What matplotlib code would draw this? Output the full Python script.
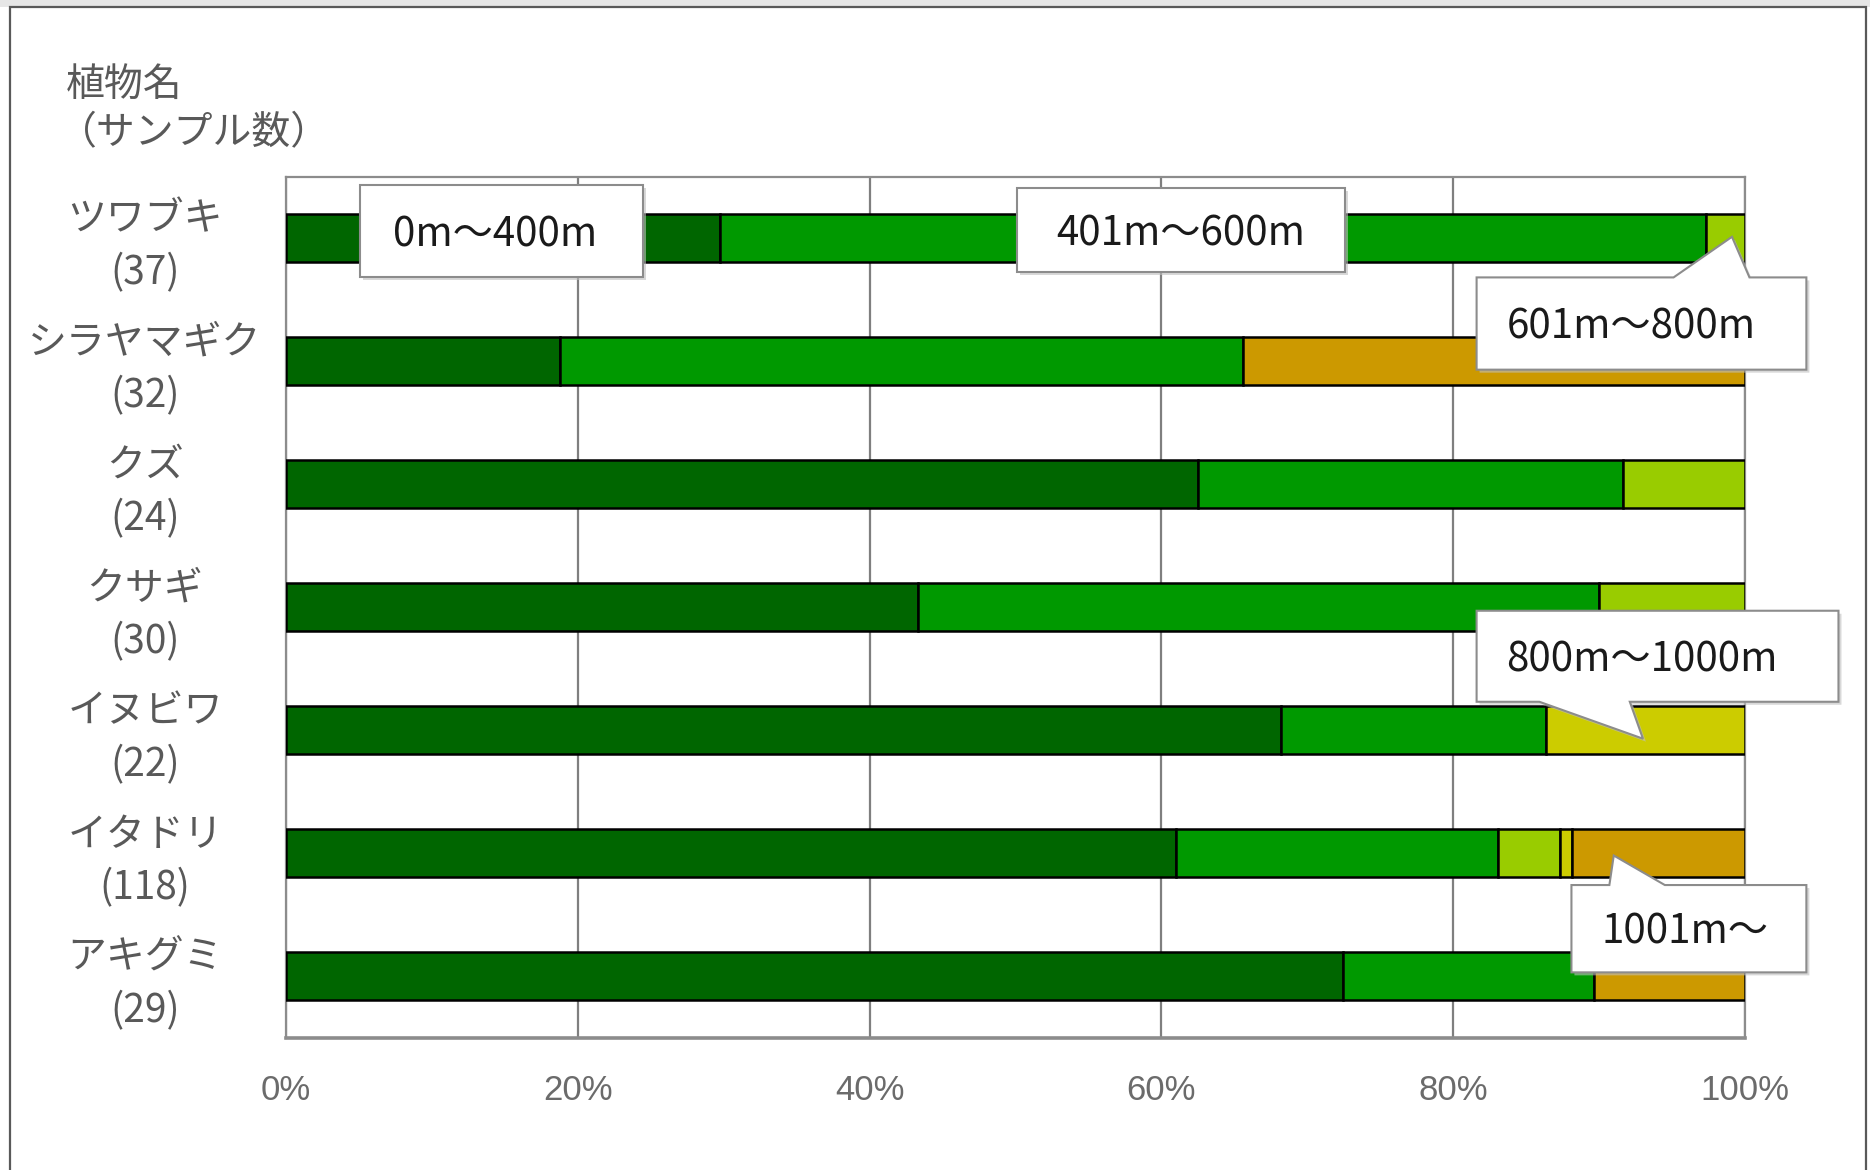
import matplotlib.pyplot as plt
from matplotlib.patches import Polygon, Rectangle
from matplotlib import transforms

plt.rcParams['font.family'] = ['Noto Sans CJK JP', 'DejaVu Sans']

# sample counts per altitude band for each plant
plants = ['ツワブキ', 'シラヤマギク', 'クズ', 'クサギ', 'イヌビワ', 'イタドリ', 'アキグミ']
samples = [37, 32, 24, 30, 22, 118, 29]
bands = ['0m～400m', '401m～600m', '601m～800m', '800m～1000m', '1001m～']
c_0_400 = [11, 6, 15, 13, 15, 72, 21]
c_401_600 = [25, 15, 7, 14, 4, 26, 5]
c_601_800 = [1, 0, 2, 3, 0, 5, 0]
c_800_1000 = [0, 0, 0, 0, 3, 1, 0]
c_1001_up = [0, 11, 0, 0, 0, 14, 3]
colors = ['#006600', '#009900', '#99cc00', '#cccc00', '#cc9900']
xticks = [0, 20, 40, 60, 80, 100]

band_counts = [c_0_400, c_401_600, c_601_800, c_800_1000, c_1001_up]

fig = plt.figure(figsize=(18.7, 11.7), dpi=100)
ax = fig.add_axes([0.1529, 0.1132, 0.7803, 0.7359])

# stacked 100% bars
lefts = [0.0] * len(plants)
for counts, col in zip(band_counts, colors):
    for i, (c, n) in enumerate(zip(counts, samples)):
        if c == 0:
            continue
        w = c / n * 100
        ax.barh(i, w, left=lefts[i], height=0.39, color=col,
                edgecolor='black', linewidth=1.8, zorder=3)
        lefts[i] += w

ax.set_xlim(0, 100)
ax.set_ylim(len(plants) - 0.5, -0.5)
ax.set_xticks(xticks)
ax.set_xticklabels([f'{t}%' for t in xticks], color='#6b6b6b', fontsize=25,
                   family=['Liberation Sans', 'DejaVu Sans'])
ax.tick_params(axis='x', length=0, pad=26)
ax.set_yticks([])
ax.grid(axis='x', color='#7f7f7f', linewidth=1.6, zorder=0)
for side in ['left', 'top', 'bottom', 'right']:
    ax.spines[side].set_color('#8c8c8c')
    ax.spines[side].set_linewidth(1.6)
ax.spines['bottom'].set_linewidth(2.6)

# two-line category labels
lab_tr = transforms.blended_transform_factory(ax.transAxes, ax.transData)
for i, (p, n) in enumerate(zip(plants, samples)):
    ax.text(-0.0966, i + 0.07, f'{p}\n({n})', transform=lab_tr, ha='center',
            va='center', fontsize=28, color='#595959', linespacing=1.45)

fig.text(66 / 1870, 1 - 85 / 1170, '植物名', fontsize=28, color='#595959',
         ha='left', va='center')
fig.text(58 / 1870, 1 - 133 / 1170, '（サンプル数）', fontsize=28, color='#595959',
         ha='left', va='center')


def callout(text, x0, x1, y0, y1, ptr=None, dx=0.0):
    # y0 is the upper edge of the box (axis is inverted)
    pts = [(x0, y0)]
    if ptr and ptr[0] == 'top':
        _, b0, b1, tx, ty = ptr
        pts += [(b0, y0), (tx, ty), (b1, y0)]
    pts += [(x1, y0), (x1, y1)]
    if ptr and ptr[0] == 'bottom':
        _, b0, b1, tx, ty = ptr
        pts += [(b1, y1), (tx, ty), (b0, y1)]
    pts += [(x0, y1)]
    shadow_tr = transforms.offset_copy(ax.transData, fig=fig, x=3, y=-3, units='dots')
    ax.add_patch(Polygon(pts, closed=True, fc='#bfbfbf', ec='none', alpha=0.6,
                         transform=shadow_tr, clip_on=False, zorder=5))
    ax.add_patch(Polygon(pts, closed=True, fc='white', ec='#8c8c8c', lw=1.5,
                         clip_on=False, zorder=6))
    ax.text((x0 + x1) / 2 + dx, (y0 + y1) / 2 + 0.03, text, ha='center', va='center',
            fontsize=29, color='#1a1a1a', zorder=7)


callout(bands[0], 5.1, 24.5, -0.43, 0.32, dx=-0.5)
callout(bands[1], 50.1, 72.6, -0.41, 0.28)
callout(bands[2], 81.6, 104.2, 0.32, 1.07, ('top', 95.1, 100.3, 99.1, -0.01), dx=-0.7)
callout(bands[3], 81.6, 106.4, 3.03, 3.77, ('bottom', 85.9, 92.1, 93.0, 4.07), dx=-1.1)
callout(bands[4], 88.1, 104.2, 5.26, 5.97, ('top', 90.7, 94.5, 91.0, 5.02), dx=-0.3)

# outer chart frame
fig.patches.append(Rectangle((0, 1 - 7 / 1170), 1, 7 / 1170, transform=fig.transFigure,
                             fc='#e6e6e6', ec='none', zorder=0))
fig.patches.append(Rectangle((10 / 1870, -0.02), 1856 / 1870, 1 - 7 / 1170 + 0.02,
                             transform=fig.transFigure, fc='none', ec='#595959',
                             lw=1.6, zorder=1))

fig.savefig('out.png', dpi=100)
